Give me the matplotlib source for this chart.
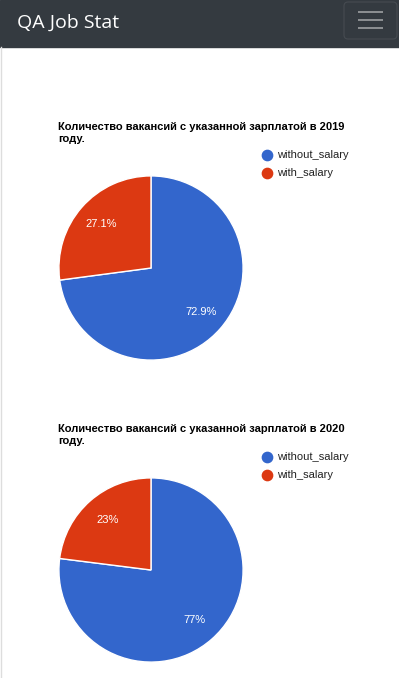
import matplotlib
matplotlib.use("Agg")
import matplotlib.pyplot as plt
from matplotlib.patches import Rectangle, FancyBboxPatch

W, H = 399, 678
categories = ["without_salary", "with_salary"]
values_2019 = [72.9, 27.1]
values_2020 = [77.0, 23.0]
titles = ["Количество вакансий с указанной зарплатой в 2019\nгоду.",
          "Количество вакансий с указанной зарплатой в 2020\nгоду."]
colors = ["#3366cc", "#dc3912"]

plt.rcParams['font.family'] = ['Arial', 'Liberation Sans', 'DejaVu Sans']
fig = plt.figure(figsize=(W/100, H/100), dpi=100)
bg = fig.add_axes([0, 0, 1, 1])
bg.set_xlim(0, W); bg.set_ylim(H, 0); bg.axis('off')

# navbar
bg.add_patch(Rectangle((0, 0), W, 47, color="#343a40", zorder=1))
bg.text(17, 23, "QA Job Stat", color="white", fontsize=14, va="center", ha="left",
        family=['Open Sans', 'DejaVu Sans'], zorder=2)
bg.add_patch(FancyBboxPatch((344, 2), 53, 37, boxstyle="round,pad=0,rounding_size=4",
                            fc="none", ec="#464b51", lw=0.8, zorder=2))
for y in (11.5, 19.5, 28):
    bg.plot([358, 383], [y, y], color="#8e9194", lw=1.4, zorder=3, solid_capstyle='butt')
bg.plot([0.5, 0.5], [47, H], color="#dddddd", lw=1, zorder=2)

def draw(cy, values, title):
    r = 93
    cx = 151
    ax = fig.add_axes([(cx - r)/W, 1 - (cy + r)/H, 2*r/W, 2*r/H])
    ax.pie(values, colors=colors, startangle=90, counterclock=False,
           autopct=lambda p: f"{p:.1f}%".replace(".0%", "%"), pctdistance=0.72,
           wedgeprops=dict(edgecolor="white", linewidth=1), radius=1,
           textprops=dict(color="white", fontsize=8))
    ax.set_xlim(-1.01, 1.01); ax.set_ylim(-1.01, 1.01)
    ax.set_aspect('equal')
    bg.text(58, cy - 146, title, fontsize=8, fontweight="bold", va="top", ha="left",
            linespacing=1.3, color="#000000")
    for i, (c, lab) in enumerate(zip(colors, categories)):
        y = cy - 113 + i * 18
        bg.scatter([267], [y], s=55, color=c, zorder=3)
        bg.text(277, y, lab, fontsize=8, va="center", ha="left", color="#222222")

draw(268, values_2019, titles[0])
draw(570, values_2020, titles[1])

fig.savefig("out.png", dpi=100)
